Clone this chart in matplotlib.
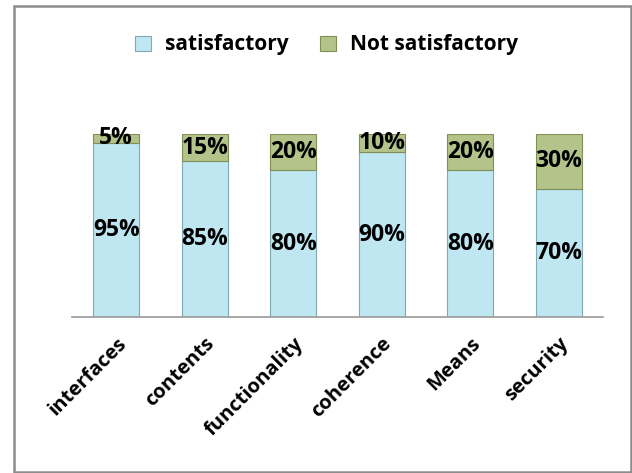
import matplotlib.pyplot as plt
from matplotlib.patches import Rectangle
import numpy as np

# chart data
categories = ["interfaces", "contents", "functionality", "coherence", "Means", "security"]
satisfactory = [95, 85, 80, 90, 80, 70]
not_satisfactory = [5, 15, 20, 10, 20, 30]

plt.rcParams['font.family'] = ['Open Sans', 'DejaVu Sans']

fig = plt.figure(figsize=(6.32, 4.73), dpi=100)
ax = fig.add_axes([0.114, 0.330, 0.840, 0.387])

x = np.arange(len(categories))
width = 0.52

blue = "#bfe7f2"
green = "#b3c38a"

ax.bar(x, satisfactory, width, color=blue, edgecolor="#7fa9b5", linewidth=0.8,
       label="satisfactory", zorder=2)
ax.bar(x, not_satisfactory, width, bottom=satisfactory, color=green,
       edgecolor="#7f8f55", linewidth=0.8, label="Not satisfactory", zorder=2)

# value labels
for i in range(len(categories)):
    ax.text(x[i], satisfactory[i] / 2, f"{satisfactory[i]}%", ha="center", va="center",
            fontsize=16.5, fontweight="bold", zorder=3)
    ax.text(x[i], satisfactory[i] + not_satisfactory[i] / 2, f"{not_satisfactory[i]}%",
            ha="center", va="center", fontsize=16.5, fontweight="bold", zorder=3)

ax.set_xlim(-0.5, 5.5)
ax.set_ylim(0, 100)
ax.set_yticks([])
ax.set_xticks(x)
ax.set_xticklabels(categories, rotation=45, ha="right", rotation_mode="anchor",
                   fontsize=14.5, fontweight="bold")
ax.tick_params(axis="x", length=0, pad=12)
for s in ["top", "left", "right"]:
    ax.spines[s].set_visible(False)
ax.spines["bottom"].set_color("#999999")
ax.spines["bottom"].set_linewidth(1.2)

leg = fig.legend(loc="center", bbox_to_anchor=(0.517, 0.905), ncol=2, frameon=False,
                 prop={"weight": "bold", "size": 15}, handlelength=0.75, handleheight=0.75,
                 columnspacing=1.5, handletextpad=0.7)

# outer frame
fig.patches.append(Rectangle((14 / 632, 1 / 473), 617 / 632, 466 / 473,
                             transform=fig.transFigure, fill=False,
                             edgecolor="#8c8c8c", linewidth=1.8))

fig.savefig("out.png", dpi=100)
